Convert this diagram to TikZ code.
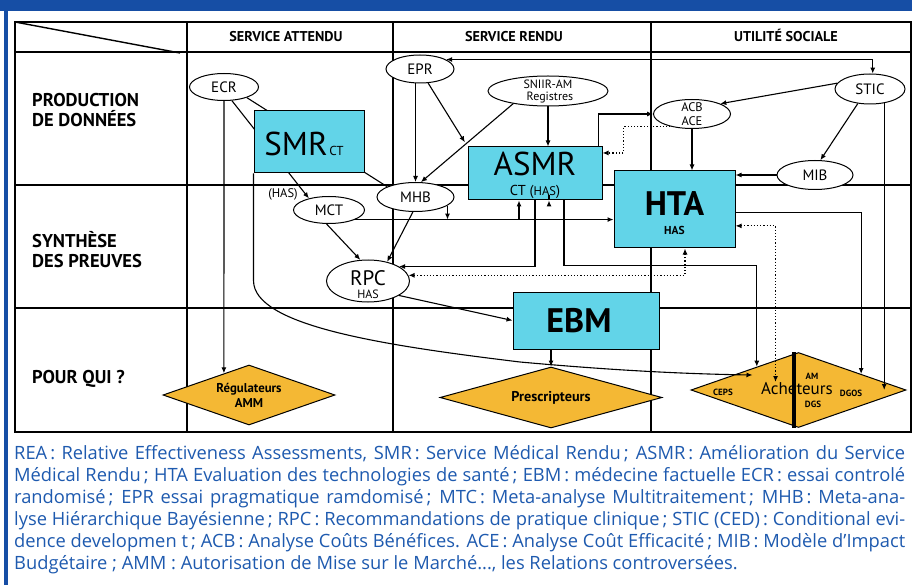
\documentclass[tikz,border=0pt]{standalone}
\usepackage{fontspec}
\setmainfont{PT Sans}
\newfontfamily\legfont{Open Sans}
\usetikzlibrary{shapes.geometric,arrows.meta,calc}
\definecolor{boxc}{RGB}{98,212,232}
\definecolor{diac}{RGB}{244,184,52}
\definecolor{legc}{RGB}{30,90,175}
\definecolor{bandc}{RGB}{22,78,165}
\begin{document}
\begin{tikzpicture}[x=1pt,y=-1pt,
  gridl/.style={line width=1.4pt},
  ell/.style={ellipse,draw,fill=white,line width=1pt,inner sep=0pt},
  etxt/.style={align=center,inner sep=0pt,font=\fontsize{15}{11}\selectfont},
  bx/.style={rectangle,draw,fill=boxc,line width=1pt,inner sep=0pt},
  dia/.style={diamond,draw,fill=diac,line width=1pt,inner sep=0pt},
  dtxt/.style={align=center,inner sep=0pt,font=\bfseries\fontsize{12.8}{15}\selectfont},
  con/.style={line width=1.1pt},
  arr/.style={con,-{Latex[length=6pt,width=5pt]}},
  darr/.style={con,{Latex[length=6pt,width=5pt]}-{Latex[length=6pt,width=5pt]}},
  dotarr/.style={line width=1.2pt,dotted,{Latex[length=6pt,width=5pt]}-{Latex[length=6pt,width=5pt]}},
  dotone/.style={line width=1.2pt,dotted,-{Latex[length=6pt,width=5pt]}},
  hdr/.style={font=\bfseries\fontsize{14.2}{14}\selectfont,inner sep=0pt},
  rowl/.style={font=\bfseries\fontsize{18.5}{20}\selectfont,align=left,anchor=west,inner sep=0pt},
  leg/.style={anchor=base west,inner sep=0pt,text=legc,font=\legfont\fontsize{18.3}{20}\selectfont},
  small/.style={font=\bfseries\fontsize{9}{9}\selectfont,inner sep=0pt}
]
\useasboundingbox (0,0) rectangle (912,585);
\fill[white] (0,0) rectangle (912,585);
% frame
\fill[bandc] (0,0) rectangle (912,11);
\fill[bandc] (3.5,0) rectangle (7.5,585);

% grid
\draw[gridl] (15,22) rectangle (911,432);
\foreach \yy in {52,185,308} \draw[gridl] (15,\yy) -- (911,\yy);
\foreach \xx in {187,393,651} \draw[gridl] (\xx,22) -- (\xx,432);
\draw[gridl] (15,22) -- (180,53);

% headers
\node[hdr] (hA) at (286,37) {SERVICE ATTENDU};
\node[hdr] (hR) at (514,37) {SERVICE RENDU};
\node[hdr] (hU) at (786,35) {UTILITÉ SOCIALE};
\node[rowl] (r1) at (32,110) {PRODUCTION\\DE DONNÉES};
\node[rowl] (r2) at (32,250) {SYNTHÈSE\\DES PREUVES};
\node[rowl] (r3) at (32,379) {POUR QUI ?};

% ellipses
\node[ell,minimum width=69pt,minimum height=27pt] (ECR) at (224,87) {};
\node[etxt] at (ECR) {ECR};
\node[ell,minimum width=68pt,minimum height=28pt] (EPR) at (420,69) {};
\node[etxt] at (EPR) {EPR};
\node[ell,minimum width=120pt,minimum height=30pt] (SNI) at (548,91) {};
\node[etxt,font=\fontsize{12}{11}\selectfont] (sniA) at (548,84.5) {SNIIR-AM};
\node[etxt,font=\fontsize{12}{11}\selectfont] (sniB) at (550,98) {Registres};
\node[ell,minimum width=77pt,minimum height=29pt] (ACB) at (692,114) {};
\node[etxt,font=\fontsize{12.5}{11}\selectfont] (acbA) at (692,107.5) {ACB};
\node[etxt,font=\fontsize{12.5}{11}\selectfont] (acbB) at (692,121) {ACE};
\node[ell,minimum width=70pt,minimum height=30pt] (STIC) at (870,89) {};
\node[etxt] at (STIC) {STIC};
\node[ell,minimum width=76pt,minimum height=29pt] (MIB) at (815,175) {};
\node[etxt] at (MIB) {MIB};
\node[ell,minimum width=77pt,minimum height=29pt] (MHB) at (415.5,197) {};
\node[etxt] at (MHB) {MHB};
\node[ell,minimum width=71pt,minimum height=27pt] (MCT) at (329,210) {};
\node[etxt] at (MCT) {MCT};
\node[ell,minimum width=83pt,minimum height=42pt] (RPC) at (368,281) {};
\node[etxt,font=\fontsize{21}{14}\selectfont] at (368,278) {RPC};
\node[etxt,font=\fontsize{12}{10}\selectfont] at (368,294) {HAS};

% lines passing behind SMR
\draw[arr] (ECR.-60) -- (MCT.150);
\draw[con] (ECR.-25) -- (MHB.160);
\node[font=\fontsize{12.5}{10}\selectfont,inner sep=0pt] (hasl) at (283,194) {(HAS)};

% boxes
\node[bx,minimum width=110pt,minimum height=62pt] (SMR) at (309,142) {};
\node[inner sep=0pt,anchor=base] at (304,156) {{\fontsize{33}{33}\selectfont SMR}\,{\fontsize{13}{12}\selectfont CT}};
\node[bx,minimum width=134pt,minimum height=53pt] (ASMR) at (535,173.5) {};
\node[inner sep=0pt,anchor=base] at (535,176) {\fontsize{33}{33}\selectfont ASMR};
\node[inner sep=0pt,anchor=base] at (535,196) {\fontsize{14.4}{14}\selectfont CT ({\fontsize{12.5}{12}\selectfont HAS})};
\node[bx,minimum width=121pt,minimum height=77pt] (HTA) at (674.5,209.5) {};
\node[inner sep=0pt,anchor=base] at (674.5,216) {\bfseries\fontsize{34}{34}\selectfont HTA};
\node[inner sep=0pt,anchor=base] at (674.5,235) {\bfseries\fontsize{11.5}{11}\selectfont HAS};
\node[bx,minimum width=146pt,minimum height=57pt] (EBM) at (586,320.5) {};
\node[inner sep=0pt,anchor=base] at (579,332) {\bfseries\fontsize{34}{34}\selectfont EBM};

% diamonds
\node[dia,minimum width=172pt,minimum height=60pt] (REG) at (249,395) {};
\node[dtxt] at (REG) {Régulateurs\\AMM};
\node[dia,minimum width=222pt,minimum height=61pt] (PRE) at (551,397.5) {};
\node[dtxt,font=\bfseries\fontsize{14.2}{15}\selectfont] at (PRE) {Prescripteurs};
\node[dia,minimum width=215pt,minimum height=75pt] (ACH) at (798.5,390) {};
\draw[line width=4pt] (ACH.north -| 794,0) -- (ACH.south -| 794,0);
\node[inner sep=0pt,font=\fontsize{17}{17}\selectfont] at (797,389) {Acheteurs};
\node[small] at (723,392) {CEPS};
\node[small] at (812,376) {AM};
\node[small] at (813,404) {DGS};
\node[small] at (851,393) {DGOS};

% connectors
\draw[arr] (ECR.south) -- ($(REG.north)!0.29!(REG.west)$);
\draw[arr] (SMR.south west) -- ++(0,107) .. controls ++(0,45) and (380,345) .. (520,362)
   .. controls (620,371) and (690,374) .. ($(ACH.west)+(62,-15)$);
\draw[arr] (MHB.north |- EPR.south) -- (MHB.north);
\draw[arr,shorten >=5pt] (EPR.-60) -- (ASMR.north west);
\draw[arr] (SNI.-160) -- (MHB.70);
\draw[arr] (SNI.south) -- (SNI.south |- ASMR.north);
\draw[darr] (EPR.20) -| (STIC.80);
\draw[arr] (STIC.170) -- (ACB.20);
\draw[arr] (STIC.-130) -- (MIB.70);
\draw[arr] (STIC.-45) -- (STIC.-45 |- ACH.east);
\draw[arr] (ACB.south) -- (ACB.south |- HTA.north);
\draw[arr] ($(ASMR.north east)+(-4,0)$) |- (ACB.west);
\coordinate (dA) at ($(ASMR.north east)!0.12!(ASMR.south east)$);
\draw[dotone] (ACB.-150) -| ($(dA)+(21,0)$) -- (dA);
\draw[arr] (MIB.west) -- (MIB.west -| HTA.east);
\draw[arr] ($(HTA.north east)!0.54!(HTA.south east)$) -| ($(ACH.north)!0.58!(ACH.east)$);
\draw[dotarr] ($(HTA.north east)!0.71!(HTA.south east)$) -| ($(ACH.center)+(-23,-8)$);
\draw[arr] (ASMR.south) |- (RPC.25);
\draw[arr] ($(ASMR.south)+(14,0)$) -- ($(ASMR.south)+(14,0)$ |- EBM.north);
\draw[arr] ($(ASMR.south)+(29,0)$) |- ($(ASMR.south)+(120,65)$) -| ($(ACH.west)!0.614!(ACH.north)$);
\draw[arr] (MCT.-20) -- (MCT.-20 -| HTA.west);
\draw[arr] ($(ASMR.south)+(-16,19.5)$) -- ($(ASMR.south)+(-16,0)$);
\draw[arr] (MHB.-15) -- (MHB.-15 |- MCT.-20);
\draw[arr] (MCT.-100) -- (RPC.110);
\draw[arr] (MHB.-100) -- (RPC.45);
\draw[dotarr] (RPC.8) -| ($(HTA.south)+(10.5,0)$);
\draw[arr] (RPC.-25) -- (EBM.west);
\draw[arr] (PRE.north |- EBM.south) -- (PRE.north);

% legend
\node[leg] (l1) at (14,459) {\makebox[891pt][s]{REA\,: Relative Effectiveness Assessments, SMR\,: Service Médical Rendu\,; ASMR\,: Amélioration du Service}};
\node[leg] (l2) at (14,481) {\makebox[891pt][s]{Médical Rendu\,; HTA Evaluation des technologies de santé\,; EBM\,: médecine factuelle ECR\,: essai controlé}};
\node[leg] (l3) at (14,503) {\makebox[891pt][s]{randomisé\,; EPR essai pragmatique ramdomisé\,; MTC\,: Meta-analyse Multitraitement\,; MHB\,: Meta-ana-}};
\node[leg] (l4) at (14,525) {\makebox[891pt][s]{lyse Hiérarchique Bayésienne\,; RPC\,: Recommandations de pratique clinique\,; STIC (CED)\,: Conditional evi-}};
\node[leg] (l5) at (14,547) {\makebox[891pt][s]{dence developmen t\,; ACB\,: Analyse Coûts Bénéfices. ACE\,: Analyse Coût Efficacité\,; MIB\,: Modèle d’Impact}};
\node[leg] (l6) at (14,569) {Budgétaire ; AMM : Autorisation de Mise sur le Marché..., les Relations controversées.};
\end{tikzpicture}
\end{document}
